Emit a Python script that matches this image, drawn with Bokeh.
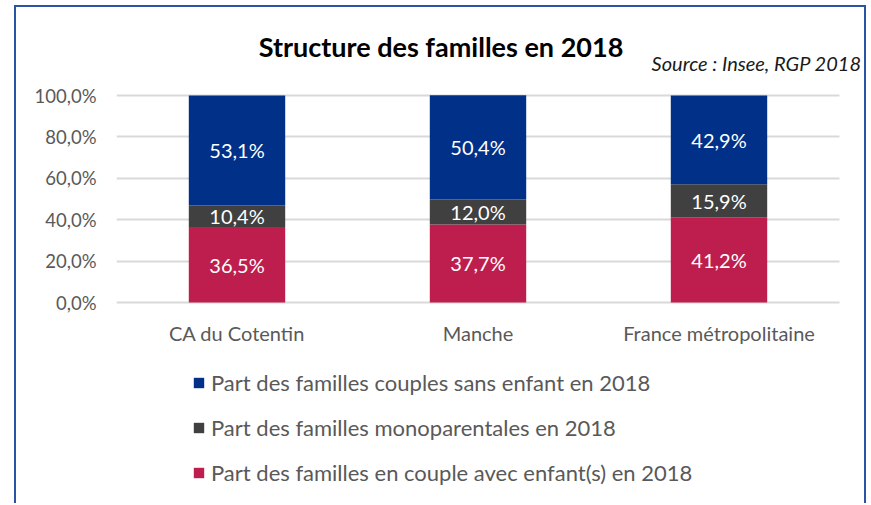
from bokeh.plotting import figure
from bokeh.models import (Range1d, FixedTicker, CustomJSTickFormatter, Grid,
                          Legend, LegendItem, Label, ColumnDataSource)
from bokeh.core.properties import value
from bokeh.embed import file_html
from bokeh.resources import INLINE

categories = ["CA du Cotentin", "Manche", "France métropolitaine"]
avec_enfants = [36.5, 37.7, 41.2]
monoparentales = [10.4, 12.0, 15.9]
sans_enfant = [53.1, 50.4, 42.9]
y_ticks = [0, 0.2, 0.4, 0.6, 0.8, 1.0]
series_names = ["Part des familles couples sans enfant en 2018",
                "Part des familles monoparentales en 2018",
                "Part des familles en couple avec enfant(s) en 2018"]
colors = {"sans": "#003088", "mono": "#404040", "avec": "#BE1E4D"}

FONT = "Lato"
GREY = "#595959"
FRAME = "#2B53A3"

W, H = 869, 503
LEFT = 116          # frame left (px)
CAT_PX = 241.0      # width of one category slot (px)
PX = 207.0          # pixels per 100 %
Y0_PX = 302         # pixel row of 0 %
Y_TOP = 1 + (Y0_PX - PX) / PX
Y_BOT = -(H - Y0_PX) / PX
n = len(categories)

p = figure(width=W, height=H, x_range=Range1d(0, (W - LEFT) / CAT_PX),
           y_range=Range1d(Y_BOT, Y_TOP), output_backend="svg", toolbar_location=None,
           min_border_left=LEFT, min_border_right=0, min_border_top=0, min_border_bottom=0)
p.outline_line_color = None
p.border_fill_color = None
p.background_fill_color = None
g = f"linear-gradient({FRAME},{FRAME})"
p.styles = {"background": f"{g} 14px 5px/2px 100% no-repeat, {g} 14px 5px/852px 2px no-repeat, "
                          f"{g} 864px 5px/2px 100% no-repeat, #ffffff"}

xs = [i + 0.5 for i in range(n)]
a = [v / 100 for v in avec_enfants]
m = [v / 100 for v in monoparentales]
s = [v / 100 for v in sans_enfant]
b2 = [x + y for x, y in zip(a, m)]
top3 = [x + y for x, y in zip(b2, s)]

# horizontal grid lines limited to the category slots
if "cross_bounds" in Grid.properties():
    p.ygrid.ticker = FixedTicker(ticks=y_ticks)
    p.ygrid.cross_bounds = (0, n)
    p.ygrid.grid_line_color = "#D9D9D9"
    p.ygrid.grid_line_width = 2
else:
    p.ygrid.grid_line_color = None
    p.segment(x0=[0] * len(y_ticks), x1=[n] * len(y_ticks), y0=y_ticks, y1=y_ticks,
              line_color="#D9D9D9", line_width=2, level="underlay")
p.xgrid.grid_line_color = None

src = ColumnDataSource(dict(x=xs, a=a, b2=b2, top=top3))
w = 0.4
r_avec = p.vbar(x="x", bottom=0, top="a", width=w, source=src, fill_color=colors["avec"], line_color=None)
r_mono = p.vbar(x="x", bottom="a", top="b2", width=w, source=src, fill_color=colors["mono"], line_color=None)
r_sans = p.vbar(x="x", bottom="b2", top="top", width=w, source=src, fill_color=colors["sans"], line_color=None)

def fmt(v):
    return f"{v:.1f}".replace(".", ",") + "%"

lab_x = xs * 3
lab_y = [x / 2 for x in a] + [x + y / 2 for x, y in zip(a, m)] + [x + y / 2 for x, y in zip(b2, s)]
lab_t = [fmt(v) for v in avec_enfants] + [fmt(v) for v in monoparentales] + [fmt(v) for v in sans_enfant]
p.text(x=lab_x, y=lab_y, text=lab_t, text_color="white", text_font=value(FONT),
       text_font_size="20px", text_align="center", text_baseline="middle")

p.yaxis.ticker = FixedTicker(ticks=y_ticks)
p.yaxis.formatter = CustomJSTickFormatter(code="return (tick*100).toFixed(1).replace('.', ',') + '%';")
p.xaxis.ticker = FixedTicker(ticks=xs)
p.xaxis.formatter = CustomJSTickFormatter(args=dict(cats=categories),
                                          code="return cats[Math.floor(tick)];")
for ax in (p.xaxis, p.yaxis):
    ax.axis_line_color = None
    ax.major_tick_line_color = None
    ax.minor_tick_line_color = None
    ax.major_tick_out = 0
    ax.major_tick_in = 0
    ax.minor_tick_out = 0
    ax.minor_tick_in = 0
    ax.major_label_text_font = FONT
    ax.major_label_text_color = GREY
p.xaxis.fixed_location = 0
p.yaxis.major_label_text_font_size = "18.5px"
p.xaxis.major_label_text_font_size = "20px"
p.yaxis.major_label_standoff = 20
p.xaxis.major_label_standoff = 18

legend = Legend(items=[LegendItem(label=series_names[0], renderers=[r_sans]),
                       LegendItem(label=series_names[1], renderers=[r_mono]),
                       LegendItem(label=series_names[2], renderers=[r_avec])],
                location=(76, 17), orientation="vertical", padding=0, margin=0,
                spacing=18, glyph_width=13, glyph_height=13, label_height=27,
                label_standoff=6, border_line_color=None, background_fill_alpha=0,
                label_text_font=FONT, label_text_font_size="22px", label_text_color=GREY)
p.add_layout(legend, "center")

p.add_layout(Label(x=324.5, y=1 + 49 / PX, x_units="screen",
                   text="Structure des familles en 2018", text_align="center",
                   text_baseline="alphabetic", text_font=FONT, text_font_style="bold",
                   text_font_size="27px", text_color="#000000"))
p.add_layout(Label(x=745, y=1 + 33 / PX, x_units="screen",
                   text="Source : Insee, RGP 2018", text_align="right",
                   text_baseline="alphabetic", text_font=FONT, text_font_style="italic",
                   text_font_size="20px", text_color="#1A1A1A"))

open("out.html", "w").write(file_html(p, INLINE))
